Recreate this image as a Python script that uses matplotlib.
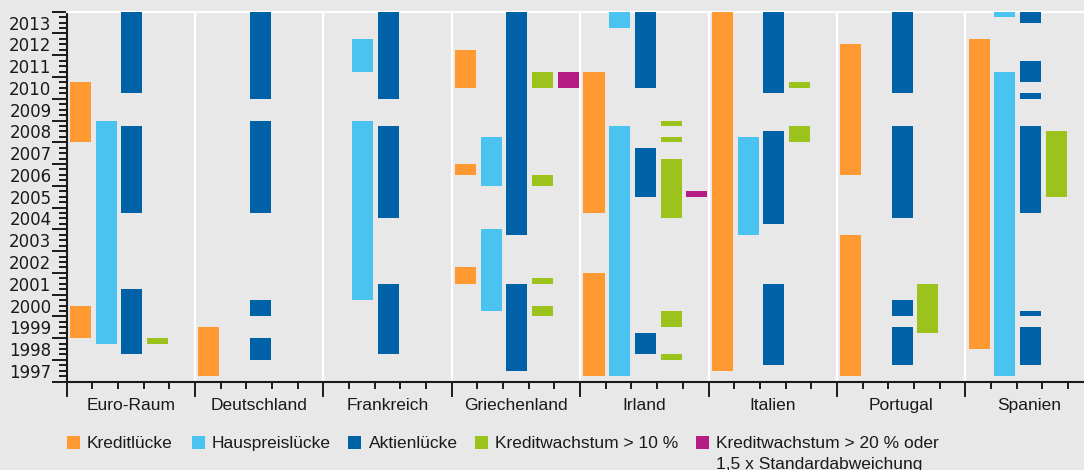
import matplotlib
matplotlib.use("Agg")
import matplotlib.pyplot as plt
from matplotlib.patches import Rectangle
from matplotlib.ticker import FixedLocator, FuncFormatter, NullFormatter
from matplotlib.transforms import blended_transform_factory

plt.rcParams['font.family'] = ['Liberation Sans', 'DejaVu Sans']

# ---------------- data ----------------
countries = ["Euro-Raum", "Deutschland", "Frankreich", "Griechenland",
             "Irland", "Italien", "Portugal", "Spanien"]

categories = ["Kreditlücke", "Hauspreislücke", "Aktienlücke",
              "Kreditwachstum > 10 %",
              "Kreditwachstum > 20 % oder\n1,5 x Standardabweichung"]

colors = ["#FF9A33", "#4AC3F1", "#0062A6", "#9CC31B", "#B51D84"]

# (country, start, end) in years
kreditluecke = [
    ("Euro-Raum", 2008.0, 2010.75), ("Euro-Raum", 1999.0, 2000.5),
    ("Deutschland", 1997.25, 1999.5),
    ("Griechenland", 2010.5, 2012.25), ("Griechenland", 2006.5, 2007.0),
    ("Griechenland", 2001.5, 2002.25),
    ("Irland", 2004.75, 2011.25), ("Irland", 1997.25, 2002.0),
    ("Italien", 1997.5, 2014.0),
    ("Portugal", 2006.5, 2012.5), ("Portugal", 1997.25, 2003.75),
    ("Spanien", 1998.5, 2012.75),
]

hauspreisluecke = [
    ("Euro-Raum", 1998.75, 2009.0),
    ("Frankreich", 2011.25, 2012.75), ("Frankreich", 2000.75, 2009.0),
    ("Griechenland", 2006.0, 2008.25), ("Griechenland", 2000.25, 2004.0),
    ("Irland", 2013.25, 2014.0), ("Irland", 1997.25, 2008.75),
    ("Italien", 2003.75, 2008.25),
    ("Spanien", 2013.75, 2014.0), ("Spanien", 1997.25, 2011.25),
]

aktienluecke = [
    ("Euro-Raum", 2010.25, 2014.0), ("Euro-Raum", 2004.75, 2008.75),
    ("Euro-Raum", 1998.25, 2001.25),
    ("Deutschland", 2010.0, 2014.0), ("Deutschland", 2004.75, 2009.0),
    ("Deutschland", 2000.0, 2000.75), ("Deutschland", 1998.0, 1999.0),
    ("Frankreich", 2010.0, 2014.0), ("Frankreich", 2004.5, 2008.75),
    ("Frankreich", 1998.25, 2001.5),
    ("Griechenland", 2003.75, 2014.0), ("Griechenland", 1997.5, 2001.5),
    ("Irland", 2010.5, 2014.0), ("Irland", 2005.5, 2007.75),
    ("Irland", 1998.25, 1999.25),
    ("Italien", 2010.25, 2014.0), ("Italien", 2004.25, 2008.5),
    ("Italien", 1997.75, 2001.5),
    ("Portugal", 2010.25, 2014.0), ("Portugal", 2004.5, 2008.75),
    ("Portugal", 2000.0, 2000.75), ("Portugal", 1997.75, 1999.5),
    ("Spanien", 2013.5, 2014.0), ("Spanien", 2010.75, 2011.75),
    ("Spanien", 2010.0, 2010.25), ("Spanien", 2004.75, 2008.75),
    ("Spanien", 2000.0, 2000.25), ("Spanien", 1997.75, 1999.5),
]

kreditwachstum_10 = [
    ("Euro-Raum", 1998.75, 1999.0),
    ("Griechenland", 2010.5, 2011.25), ("Griechenland", 2006.0, 2006.5),
    ("Griechenland", 2001.5, 2001.75), ("Griechenland", 2000.0, 2000.5),
    ("Irland", 2008.75, 2009.0), ("Irland", 2008.0, 2008.25),
    ("Irland", 2004.5, 2007.25), ("Irland", 1999.5, 2000.25),
    ("Irland", 1998.0, 1998.25),
    ("Italien", 2010.5, 2010.75), ("Italien", 2008.0, 2008.75),
    ("Portugal", 1999.25, 2001.5),
    ("Spanien", 2005.5, 2008.5),
]

kreditwachstum_20 = [
    ("Griechenland", 2010.5, 2011.25),
    ("Irland", 2005.5, 2005.75),
]

years = list(range(1997, 2014))

series = [kreditluecke, hauspreisluecke, aktienluecke,
          kreditwachstum_10, kreditwachstum_20]

# ---------------- figure ----------------
W, H = 1084, 470
bg = "#E8E8E8"
ink = "#1a1a1a"
fig = plt.figure(figsize=(W / 100, H / 100), dpi=100)
fig.patch.set_facecolor(bg)

ax_left, ax_bottom = 66.5, 88.3
ax = fig.add_axes([ax_left / W, ax_bottom / H, 1 - ax_left / W, 370 / H])
ax.set_facecolor(bg)

n_cat = len(categories)
ax.set_xlim(0, 39.62)
ax.set_ylim(years[0], years[-1] + 1)

for ci, (data, col) in enumerate(zip(series, colors)):
    for name, s, e in data:
        slot = countries.index(name) * n_cat + ci
        ax.bar(slot + 0.13, e - s, bottom=s, width=0.82, align="edge",
               color=col, linewidth=0, zorder=3)

# white group separators
for k in range(1, len(countries)):
    ax.axvline(k * n_cat, color="white", lw=1.6, zorder=1)

ax.spines["right"].set_visible(False)
ax.spines["top"].set_color("white")
ax.spines["top"].set_linewidth(1.6)
for sp in ["left", "bottom"]:
    ax.spines[sp].set_linewidth(1.5)
    ax.spines[sp].set_color(ink)

# y axis ticks
ax.yaxis.set_major_locator(FixedLocator(list(range(years[0], years[-1] + 2))))
ax.yaxis.set_major_formatter(NullFormatter())
minor_y = [y + q for y in years for q in (0.25, 0.5, 0.75)]
ax.yaxis.set_minor_locator(FixedLocator(minor_y))
ax.yaxis.set_minor_formatter(FuncFormatter(
    lambda v, p: str(int(v)) if abs(v - int(v) - 0.5) < 1e-6 else ""))
ax.tick_params(axis="y", which="major", length=10.8, width=1.4,
               color=ink, direction="out")
ax.tick_params(axis="y", which="minor", length=5.5, width=1.4,
               color=ink, direction="out", pad=5.3,
               labelsize=12, labelcolor=ink, labelfontfamily="DejaVu Sans")

# x axis ticks
ax.xaxis.set_major_locator(FixedLocator(list(range(0, 40, 5))))
ax.xaxis.set_major_formatter(NullFormatter())
ax.xaxis.set_minor_locator(FixedLocator([i for i in range(40) if i % 5]))
ax.xaxis.set_minor_formatter(NullFormatter())
ax.tick_params(axis="x", which="major", length=10.8, width=1.4,
               color=ink, direction="out")
ax.tick_params(axis="x", which="minor", length=5.0, width=1.4,
               color=ink, direction="out")

trans = blended_transform_factory(ax.transData, ax.transAxes)
for i, name in enumerate(countries):
    ax.text(i * n_cat + n_cat / 2, -28.6 / 370, name, transform=trans,
            ha="center", va="baseline", fontsize=12.5, color=ink)

# legend (manual)
sq_x = [66.5, 192, 348, 474.6, 696]
tx_x = [87, 212, 368.5, 495, 716]
sq_top, sq_size = 435.5, 13.0
base1 = 448.0
for lab, col, sx, tx in zip(categories, colors, sq_x, tx_x):
    fig.patches.append(Rectangle((sx / W, (H - sq_top - sq_size) / H),
                                 sq_size / W, sq_size / H,
                                 transform=fig.transFigure, color=col,
                                 linewidth=0))
    for li, line in enumerate(lab.split("\n")):
        fig.text(tx / W, (H - base1 - li * 20.5) / H, line, ha="left",
                 va="baseline", fontsize=12.5, color=ink)

fig.savefig("out.png", dpi=100, facecolor=bg)
